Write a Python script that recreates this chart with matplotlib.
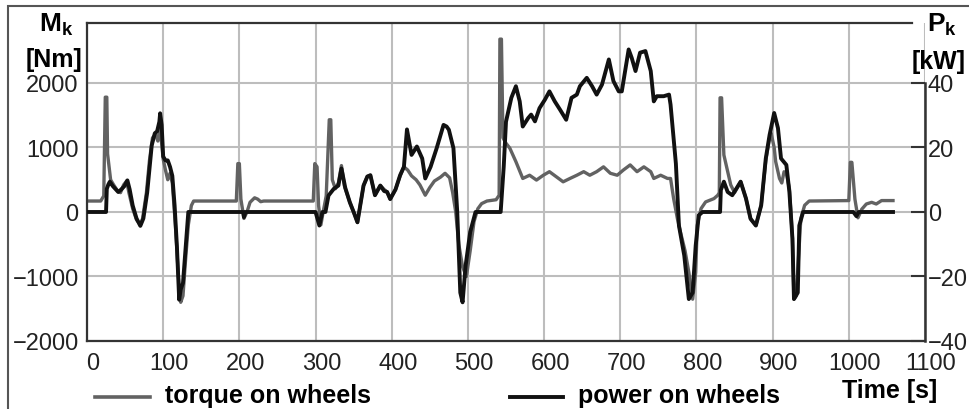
import matplotlib
matplotlib.use("Agg")
import matplotlib.pyplot as plt
from matplotlib.lines import Line2D
from matplotlib.patches import Rectangle
import matplotlib.transforms as mtransforms

plt.rcParams['font.family'] = ['Liberation Sans', 'DejaVu Sans']
plt.rcParams['mathtext.fontset'] = 'custom'
plt.rcParams['mathtext.rm'] = 'Liberation Sans:bold'
plt.rcParams['mathtext.bf'] = 'Liberation Sans:bold'

# ---- data: torque on wheels [Nm] ----
t_torque = [0, 18, 22, 24, 26, 27, 29, 31, 35, 40, 44, 48, 52, 55, 60, 65, 70, 73, 78, 82,
            86, 90, 93, 96, 100, 103, 106, 109, 112, 116, 120, 123, 126, 129, 133, 137, 140,
            196, 198, 200, 202, 206, 210, 214, 220, 224, 228, 232, 297, 299, 302, 304, 307,
            310, 314, 318, 320, 322, 326, 330, 334, 338, 345, 350, 355, 360, 363, 368, 372,
            378, 385, 390, 394, 398, 405, 411, 416, 421, 426, 432, 437, 444, 450, 456, 464,
            470, 476, 480, 484, 488, 493, 498, 503, 508, 513, 518, 525, 537, 541, 542, 544,
            546, 550, 555, 563, 572, 581, 590, 599, 607, 616, 625, 634, 643, 652, 660, 669,
            678, 687, 696, 704, 713, 722, 731, 740, 744, 753, 762, 766, 770, 775, 779, 785,
            790, 795, 799, 801, 806, 812, 823, 828, 830, 831, 833, 836, 841, 845, 850, 858,
            865, 871, 878, 885, 891, 896, 898, 902, 904, 909, 912, 915, 918, 922, 926, 928,
            931, 933, 937, 942, 948, 1000, 1002, 1004, 1008, 1012, 1017, 1023, 1030, 1036,
            1043, 1058]
torque = [170, 170, 250, 1780, 1780, 900, 700, 500, 420, 330, 300, 420, 480, 300, 50, -120,
          -200, -100, 300, 800, 1150, 1200, 1100, 1300, 820, 650, 500, 600, 450, -200, -1000,
          -1400, -1300, -800, -200, 100, 170,
          170, 750, 750, 200, -100, 0, 150, 220, 200, 160, 170, 170, 750, 700, 100, -200,
          0, 250, 1430, 1430, 500, 360, 450, 720, 400, 150, 0, -160, 200, 410, 550, 570,
          260, 410, 350, 310, 200, 350, 560, 700, 650, 560, 500, 420, 260, 380, 480, 540,
          600, 530, 300, 0, -500, -850, -1000, -600, -150, 50, 130, 170, 190, 260, 2680, 2680,
          1150, 1066, 990, 780, 520, 570, 495, 570, 625, 546, 468, 520, 570, 625, 570, 625,
          700, 600, 570, 650, 730, 625, 700, 625, 520, 570, 520, 520, 210, -104, -312, -600,
          -936, -1352, -936, -208, 52, 156, 208, 260, 300, 1770, 1770, 884, 624, 420, 300, 470,
          210, -104, -208, 104, 800, 1150, 1222, 1000, 780, 520, 450, 624, 600, 364, -400, -1350,
          -1300, -900, -104, 104, 170, 177, 770, 770, 200, -90, 43, 124, 150, 124,
          177, 177]

# ---- data: power on wheels [kW] ----
t_power = [0, 25, 26, 28, 30, 34, 38, 41, 45, 49, 53, 56, 60, 65, 70, 74, 79, 85, 89, 92,
           95, 96, 98, 100, 103, 106, 109, 112, 115, 118, 121, 123, 126, 129, 133,
           205, 206, 208, 300, 305, 309, 313, 317, 324, 330, 334, 339, 345, 350, 355, 363,
           368, 372, 378, 385, 390, 394, 398, 405, 411, 416, 420, 426, 433, 440, 444, 451,
           459, 468, 472, 475, 481, 486, 490, 493, 497, 503, 510, 543, 547, 550, 557, 563,
           568, 572, 579, 583, 588, 594, 601, 607, 614, 621, 629, 636, 643, 647, 656, 663,
           669, 676, 685, 691, 698, 702, 711, 715, 720, 726, 733, 740, 744, 748, 757, 764,
           766, 770, 773, 777, 784, 790, 795, 799, 803, 808, 831, 832, 836, 841, 847, 858,
           865, 871, 878, 885, 891, 896, 902, 907, 911, 918, 922, 926, 928, 933, 935, 940,
           1006, 1010, 1013, 1058]
power = [0, 0, 7.2, 8.5, 9.4, 8, 7, 6.2, 7, 8, 9.8, 7, 2, -2, -4.3, -2, 6, 20.7, 24.4, 25,
         28, 30.6, 27, 17.2, 16, 16, 14, 11.2, 2, -10.5, -27.2, -24, -22, -12.6, 0,
         0, -1.6, 0, 0, -4.2, 0, 0, 5.1, 7.2, 8.2, 13.5, 7.5, 3, 0, -3.2, 8.2,
         11, 11.4, 5.2, 8.2, 6.5, 6.2, 4, 7, 11.4, 14, 25.6, 17.7, 20.3, 16.6, 10.4, 14,
         19.8, 27, 26.5, 25.5, 19.8, 0, -25, -28, -16.6, -6.2, 0, 0, 14, 28, 35.4, 39,
         34.3, 26.5, 29.1, 30.2, 28.1, 32.2, 34.8, 37.4, 34.3, 31.7, 28.6, 35.4, 36.4, 39, 41.6, 39,
         36.4, 39.5, 47.3, 40.6, 37.4, 37.4, 50.4, 47.8, 43.7, 49.4, 49.9, 43.7, 34.3, 35.9, 35.9, 36.4,
         33.3, 22.9, 15, -4.2, -13.5, -27, -25, -10.4, -1, 0, 0, 6.8, 9.4, 6.2, 5.2, 9.4,
         4.2, -2.1, -4.2, 2.1, 16.6, 23.9, 30.7, 26, 16.6, 14.6, 6.2, -8.3, -27, -25, -4.2, 0,
         0, -1.3, 0, 0]

x_ticks = [0, 100, 200, 300, 400, 500, 600, 700, 800, 900, 1000, 1100]
y_ticks_left = [-2000, -1000, 0, 1000, 2000]
y_ticks_right = [-40, -20, 0, 20, 40]

fig = plt.figure(figsize=(9.69, 4.10), dpi=100)
ax = fig.add_axes([87/969, 1 - 342/410, (925-87)/969, (342-24)/410])

ytop = 2930
ax.set_xlim(0, 1100)
ax.set_ylim(-2000, ytop)
ax.set_xticks(x_ticks)
ax.set_yticks(y_ticks_left)
ax.grid(True, color='#bdbdbd', lw=1.5)
ax.set_axisbelow(True)
ax.tick_params(axis='both', length=0, labelsize=17, colors='#222222')
ax.tick_params(axis='y', pad=6)
ax.tick_params(axis='x', pad=8)
offset = mtransforms.ScaledTranslation(6/100, 0, fig.dpi_scale_trans)
for lbl in ax.get_xticklabels():
    lbl.set_transform(lbl.get_transform() + offset)

for s in ['left', 'bottom', 'top']:
    ax.spines[s].set_color('#333333')
    ax.spines[s].set_linewidth(1.6)
ax.spines['top'].set_bounds(0, 1083)
ax.spines['right'].set_visible(False)

ax.plot(t_torque, torque, color='#626262', lw=2.4, solid_joinstyle='round')

ax2 = ax.twinx()
ax2.set_ylim(-40, 40 * ytop / 2000)
ax2.set_yticks(y_ticks_right)
ax2.tick_params(axis='y', direction='in', length=10, width=1.5, color='#333333',
                labelsize=17, labelcolor='#222222', pad=2)
for s in ['left', 'bottom', 'top']:
    ax2.spines[s].set_visible(False)
ax2.spines['right'].set_bounds(-40, 40)
ax2.spines['right'].set_color('#333333')
ax2.spines['right'].set_linewidth(1.8)
ax2.plot(t_power, power, color='#111111', lw=2.8, solid_joinstyle='round')

# axis titles
fig.text(56/969, 1 - 25/410, r'$\mathbf{M_k}$', ha='center', va='center', fontsize=19)
fig.text(54/969, 1 - 60/410, '[Nm]', ha='center', va='center', fontsize=18, fontweight='bold')
fig.text(942/969, 1 - 25/410, r'$\mathbf{P_k}$', ha='center', va='center', fontsize=19)
fig.text(939/969, 1 - 62/410, '[kW]', ha='center', va='center', fontsize=18, fontweight='bold')
fig.text(890/969, 1 - 391/410, 'Time [s]', ha='center', va='center', fontsize=18, fontweight='bold')

# legend
fig.add_artist(Line2D([95/969, 150/969], [1 - 398/410] * 2, color='#626262', lw=2.6))
fig.text(165/969, 1 - 396/410, 'torque on wheels', ha='left', va='center', fontsize=18,
         fontweight='bold')
fig.add_artist(Line2D([510/969, 563/969], [1 - 398/410] * 2, color='#111111', lw=2.8))
fig.text(578/969, 1 - 396/410, 'power on wheels', ha='left', va='center', fontsize=18,
         fontweight='bold')

# outer border
fig.add_artist(Rectangle((8/969, -0.02), 1.02, 1 - 7/410 + 0.02, transform=fig.transFigure,
                         fill=False, edgecolor='#555555', lw=1.5))

fig.savefig('out.png', dpi=100)
